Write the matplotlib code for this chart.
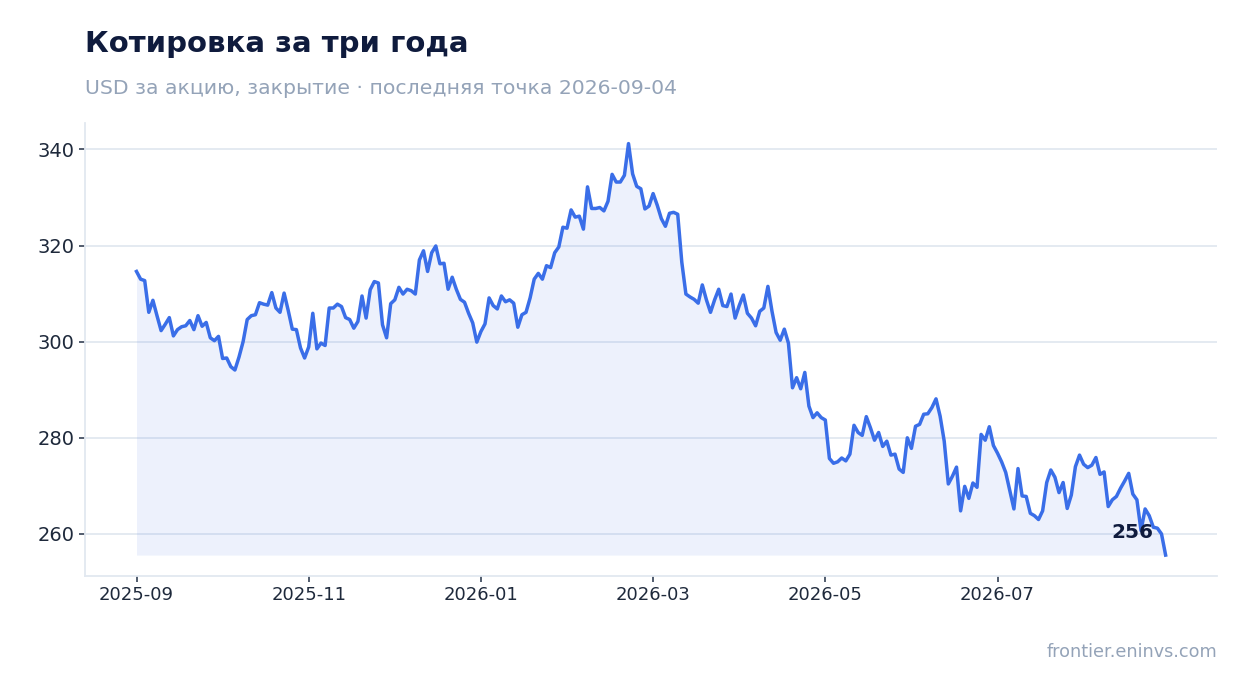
import numpy as np
import matplotlib
matplotlib.use('Agg')
import matplotlib.pyplot as plt


# closing prices, one per trading day (index axis)
prices = [
    314.6, 313.0, 312.7, 306.1, 308.6, 305.4, 302.3, 303.6, 305.0, 301.2,
    302.5, 303.1, 303.3, 304.4, 302.5, 305.4, 303.2, 304.0, 300.8, 300.2,
    301.1, 296.5, 296.6, 294.8, 294.1, 296.8, 300.0, 304.6, 305.4, 305.6,
    308.1, 307.8, 307.6, 310.2, 307.0, 306.1, 310.1, 306.5, 302.6, 302.5,
    298.7, 296.6, 298.9, 305.9, 298.5, 299.7, 299.2, 307.0, 307.0, 307.8,
    307.3, 305.0, 304.6, 302.8, 304.2, 309.5, 304.9, 310.8, 312.5, 312.2,
    303.5, 300.8, 307.9, 308.7, 311.3, 309.9, 310.9, 310.6, 309.9, 317.0,
    318.9, 314.6, 318.5, 319.9, 316.2, 316.3, 310.9, 313.4, 310.9, 308.8,
    308.2, 305.9, 303.9, 299.9, 302.1, 303.7, 309.1, 307.5, 306.8, 309.5,
    308.3, 308.7, 308.0, 303.0, 305.6, 306.1, 309.1, 313.0, 314.2, 313.0,
    315.8, 315.4, 318.5, 319.7, 323.8, 323.6, 327.4, 325.9, 326.1, 323.4,
    332.2, 327.7, 327.7, 327.9, 327.2, 329.2, 334.8, 333.2, 333.2, 334.6,
    341.2, 334.9, 332.3, 331.8, 327.6, 328.2, 330.8, 328.4, 325.6, 324.0,
    326.7, 326.9, 326.5, 316.5, 309.9, 309.3, 308.8, 308.0, 311.8, 308.7,
    306.1, 308.7, 310.9, 307.5, 307.3, 309.9, 304.9, 307.5, 309.7, 305.9,
    304.9, 303.3, 306.3, 307.0, 311.5, 306.3, 301.9, 300.3, 302.6, 299.7,
    290.4, 292.5, 290.2, 293.6, 286.6, 284.2, 285.2, 284.2, 283.7, 275.7,
    274.7, 275.0, 275.8, 275.2, 276.6, 282.6, 281.1, 280.5, 284.4, 282.1,
    279.5, 281.1, 278.2, 279.3, 276.4, 276.6, 273.5, 272.8, 280.0, 277.8,
    282.4, 282.8, 284.9, 285.0, 286.3, 288.1, 284.5, 279.3, 270.4, 272.0,
    273.9, 264.8, 269.9, 267.4, 270.6, 269.7, 280.7, 279.5, 282.3, 278.4,
    276.8, 275.0, 272.8, 269.0, 265.2, 273.6, 267.9, 267.8, 264.3, 263.8,
    263.0, 264.8, 270.7, 273.3, 271.8, 268.6, 270.7, 265.3, 268.1, 274.0,
    276.4, 274.5, 273.8, 274.3, 275.9, 272.4, 272.9, 265.7, 267.1, 267.8,
    269.5, 271.0, 272.6, 268.3, 267.1, 260.7, 265.2, 263.8, 261.4, 261.2,
    260.0, 255.6,
]

# month labels at every 42nd trading day
tick_index = [0, 42, 84, 126, 168, 210]
tick_labels = ['2025-09', '2025-11', '2026-01', '2026-03', '2026-05', '2026-07']
y_ticks = [260, 280, 300, 320, 340]

title = 'Котировка за три года'
subtitle = 'USD за акцию, закрытие · последняя точка 2026-09-04'
source = 'frontier.eninvs.com'

LINE = '#3a6ee8'
GRID = '#e2e8f0'
NAVY = '#0f1b3d'
MUTED = '#94a3b8'

plt.rcParams['font.family'] = ['DejaVu Sans']

fig = plt.figure(figsize=(12.47, 6.93), dpi=100)
ax = fig.add_axes([0.0682, 0.1693, 0.9078, 0.6532])

x = np.arange(len(prices))
y = np.array(prices)

ax.fill_between(x, y, y.min(), color=LINE, alpha=0.09, linewidth=0)
ax.plot(x, y, color=LINE, linewidth=2.5, solid_joinstyle='round')

# last value label
ax.annotate('{:.0f}'.format(y[-1]), xy=(x[-1], y[-1]), xytext=(-9, 16),
            textcoords='offset points', ha='right', va='center',
            fontsize=14.5, fontweight='bold', color=NAVY)

ax.set_xticks(tick_index)
ax.set_xticklabels(tick_labels)
ax.set_yticks(y_ticks)

ax.grid(axis='y', color=GRID, linewidth=1.3)
ax.set_axisbelow(True)
for side in ['top', 'right']:
    ax.spines[side].set_visible(False)
for side in ['left', 'bottom']:
    ax.spines[side].set_color(GRID)
    ax.spines[side].set_linewidth(1.3)

ax.tick_params(axis='both', colors='#334155', length=4, width=1.2,
               labelcolor='#1e293b')
ax.tick_params(axis='x', labelsize=13)
ax.tick_params(axis='y', labelsize=14)

fig.text(0.0682, 0.936, title, fontsize=21, fontweight='bold',
         color=NAVY, ha='left', va='center')
fig.text(0.0682, 0.873, subtitle, fontsize=14.7, color=MUTED,
         ha='left', va='center')
fig.text(0.976, 0.059, source, fontsize=12.7, color=MUTED,
         ha='right', va='center')

fig.savefig('out.png', dpi=100)
